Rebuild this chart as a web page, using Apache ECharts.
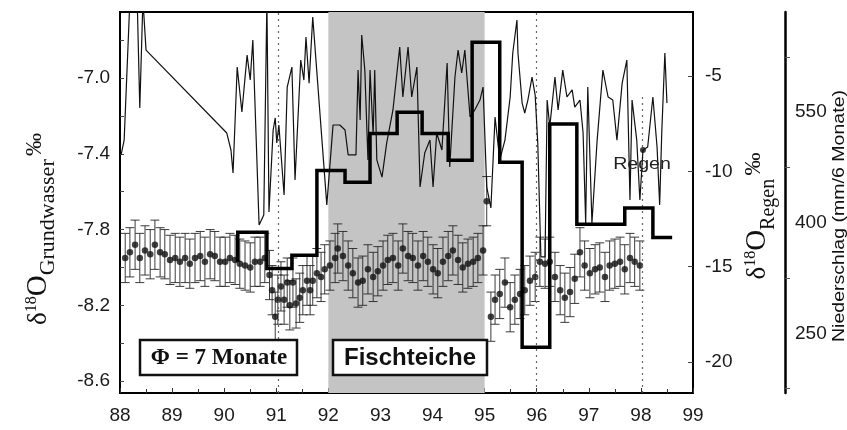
<!DOCTYPE html>
<html>
<head>
<meta charset="utf-8">
<script src="https://cdn.jsdelivr.net/npm/echarts@6/dist/echarts.min.js"></script>
<style>
  html, body { margin: 0; padding: 0; background: #fff; }
  #chart { width: 847px; height: 430px; }
</style>
</head>
<body>
<div id="chart"></div>
<script>
// δ18O of groundwater (‰), sampling dates as decimal years (19xx)
const gwYears = [88.10,88.19,88.29,88.38,88.48,88.58,88.67,88.77,88.86,88.96,89.06,89.15,89.25,89.34,89.44,89.54,89.63,89.73,89.82,89.92,
  90.02,90.11,90.21,90.30,90.40,90.50,90.59,90.69,90.78,90.87,90.92,90.98,91.03,91.09,91.15,91.21,91.26,91.32,91.38,91.45,
  91.51,91.59,91.65,91.70,91.78,91.86,91.93,92.03,92.13,92.18,92.28,92.38,92.47,92.57,92.66,92.76,92.86,92.95,93.05,93.14,
  93.24,93.34,93.43,93.53,93.62,93.72,93.82,93.91,94.01,94.10,94.20,94.30,94.39,94.49,94.58,94.68,94.78,94.87,94.97,95.04,
  95.12,95.20,95.29,95.39,95.49,95.58,95.68,95.77,95.87,95.97,96.06,96.16,96.25,96.35,96.45,96.54,96.64,96.73,96.83,96.92,
  97.02,97.12,97.21,97.31,97.40,97.50,97.60,97.69,97.79,97.88,97.98];
const gwValues = [-7.95,-7.92,-7.88,-7.95,-7.91,-7.93,-7.88,-7.92,-7.93,-7.96,-7.95,-7.97,-7.95,-7.98,-7.95,-7.94,-7.97,-7.93,-7.94,-7.97,
  -7.97,-7.95,-7.96,-7.98,-7.99,-8.00,-7.97,-7.97,-7.95,-8.04,-8.12,-8.26,-8.17,-8.10,-8.17,-8.08,-8.20,-8.08,-8.19,-8.16,
  -8.12,-8.07,-8.12,-8.07,-8.03,-8.05,-8.01,-7.99,-7.95,-7.90,-7.94,-7.99,-8.03,-8.08,-8.07,-8.01,-8.05,-8.02,-7.99,-7.96,
  -7.95,-7.99,-7.90,-7.94,-7.95,-7.99,-7.94,-7.97,-8.01,-8.03,-7.97,-7.94,-7.91,-7.96,-8.00,-7.98,-7.97,-7.95,-7.91,-7.65,
  -8.26,-8.17,-8.14,-8.08,-8.21,-8.17,-8.14,-8.12,-8.07,-8.05,-7.97,-7.98,-7.97,-8.05,-8.12,-8.16,-8.13,-8.06,-7.92,-7.99,
  -8.03,-8.01,-8.00,-8.05,-7.99,-7.98,-7.97,-8.01,-7.95,-7.97,-7.99];
const gwError = 0.13;   // analytical uncertainty (±‰)

// δ18O of rain (‰)
const rainYears = [88.02,88.08,88.19,88.33,88.38,88.44,88.50,90.05,90.13,90.17,90.25,90.34,90.44,90.50,90.55,90.67,90.76,90.82,90.86,90.94,
  90.98,91.01,91.05,91.15,91.21,91.30,91.36,91.47,91.53,91.57,91.63,91.70,91.97,92.09,92.22,92.32,92.38,92.53,92.57,92.61,
  92.64,92.70,92.76,92.80,92.86,92.89,92.93,93.03,93.12,93.24,93.37,93.43,93.53,93.60,93.70,93.76,93.85,93.95,94.01,94.08,
  94.18,94.28,94.33,94.43,94.49,94.56,94.62,94.72,94.81,94.91,94.97,95.04,95.12,95.20,95.29,95.39,95.49,95.54,95.62,95.64,
  95.72,95.77,95.83,95.91,95.97,96.02,96.08,96.16,96.20,96.25,96.35,96.41,96.50,96.58,96.68,96.73,96.83,96.89,96.94,96.98,
  97.06,97.16,97.27,97.37,97.46,97.54,97.64,97.73,97.79,97.83,97.92,97.98,98.04,98.13,98.23,98.31,98.36,98.40,98.46,98.50];
const rainValues = [-9.14,-8.36,-1.0,-1.0,-6.68,-1.0,-3.64,-7.99,-8.88,-10.09,-4.53,-6.89,-3.90,-5.21,-3.11,-12.81,-12.29,-1.0,-12.13,-7.83,
  -7.20,-8.51,-7.57,-11.24,-5.58,-4.53,-10.45,-4.16,-5.21,-2.95,-5.37,-1.91,-11.76,-7.57,-7.57,-7.83,-9.14,-9.14,-4.69,-7.31,
  -2.85,-4.69,-9.40,-4.69,-8.09,-4.69,-9.40,-10.30,-8.51,-6.78,-3.48,-6.10,-3.48,-6.10,-4.53,-10.82,-9.04,-8.36,-10.82,-7.99,
  -8.88,-4.32,-9.77,-5.05,-3.64,-4.84,-3.64,-7.15,-6.78,-6.26,-5.58,-10.82,-11.92,-7.15,-9.40,-8.36,-6.10,-3.79,-2.06,-3.79,
  -6.42,-6.94,-6.26,-5.05,-6.00,-8.51,-14.49,-14.49,-6.26,-7.67,-5.05,-6.78,-4.69,-6.10,-5.73,-6.63,-6.26,-7.99,-12.71,-5.58,
  -12.71,-8.36,-4.69,-6.10,-6.26,-8.36,-5.37,-4.16,-11.50,-6.26,-8.36,-11.50,-8.88,-8.72,-6.10,-8.72,-11.76,-7.99,-3.79,-6.42];
const rainMarkIndex = 112;   // sample highlighted next to the "Regen" label

// Precipitation (mm per 6 months), half-year bins
const precipEdges = [90.26,90.82,91.30,91.78,92.32,92.80,93.32,93.80,94.30,94.76,95.29,95.72,96.25,96.77,97.69,98.23,98.60];
const precipValues = [387,338,356,471,455,521,550,521,485,645,482,231,534,398,420,380];
const precipLead = 347;

// Fish-pond period and marked dates
const pondPeriod = [92.0, 95.0];
const markedYears = [91.03, 96.0];
const markedYear98 = 98.02;

// Axis tick labels
const gwTickValues = [-8.6, -8.2, -7.8, -7.4, -7.0];
const rainTickValues = [-20, -15, -10, -5];
const precipTickValues = [250, 400, 550];

const precipLine = [[precipEdges[0], precipLead]];
precipValues.forEach((v, i) => {
  precipLine.push([precipEdges[i], v], [precipEdges[i + 1], v]);
});

const chart = echarts.init(document.getElementById('chart'), null, { renderer: 'canvas' });
const sans = '"Liberation Sans", Arial, sans-serif';
const serif = '"Liberation Serif", "Times New Roman", serif';
const labelStyle = { color: '#1a1a1a', fontSize: 19, fontFamily: sans };

function titleRich(subSize) {
  return {
    d: { fontFamily: serif, fontSize: 27, verticalAlign: 'bottom' },
    sup: { fontFamily: serif, fontSize: 16, verticalAlign: 'top' },
    o: { fontFamily: serif, fontSize: 29, verticalAlign: 'bottom' },
    sub: { fontFamily: serif, fontSize: subSize, verticalAlign: 'bottom', padding: [0, 0, -7, 0] },
    pm: { fontFamily: serif, fontSize: 23, verticalAlign: 'top' }
  };
}

chart.setOption({
  animation: false,
  backgroundColor: '#fff',
  grid: { left: 120, right: 154, top: 12, bottom: 37, show: true, borderColor: '#000', borderWidth: 2, backgroundColor: 'transparent' },
  xAxis: {
    type: 'value', min: 88, max: 99, interval: 1,
    axisLine: { show: true, lineStyle: { color: '#000', width: 2 } },
    axisTick: { show: true, inside: true, length: 5, lineStyle: { color: '#333' } },
    minorTick: { show: true, splitNumber: 2, length: 4, lineStyle: { color: '#333' } },
    splitLine: { show: false },
    axisLabel: Object.assign({ margin: 13, formatter: v => String(v) }, labelStyle)
  },
  yAxis: [
    {
      type: 'value', min: -8.663, max: -6.651, position: 'left',
      axisLine: { show: true, lineStyle: { color: '#000', width: 2 } },
      axisTick: { show: true, inside: true, length: 4, customValues: [-8.6,-8.4,-8.2,-8.0,-7.8,-7.6,-7.4,-7.2,-7.0,-6.8], lineStyle: { color: '#444' } },
      splitLine: { show: false },
      axisLabel: Object.assign({ margin: 10, customValues: gwTickValues, formatter: v => v.toFixed(1) }, labelStyle)
    },
    {
      type: 'value', min: -21.63, max: -1.64, position: 'right',
      axisLine: { show: true, lineStyle: { color: '#000', width: 2 } },
      axisTick: { show: true, inside: true, length: 5, customValues: rainTickValues, lineStyle: { color: '#444' } },
      splitLine: { show: false },
      axisLabel: Object.assign({ margin: 12, customValues: rainTickValues, formatter: v => String(v) }, labelStyle)
    },
    {
      type: 'value', min: 169, max: 686, position: 'right', offset: 92,
      axisLine: { show: true, lineStyle: { color: '#000', width: 2.5 } },
      axisTick: { show: true, inside: false, length: 5, customValues: [175, 325, 475, 625], lineStyle: { color: '#555' } },
      splitLine: { show: false },
      axisLabel: Object.assign({ margin: 10, customValues: precipTickValues, formatter: v => String(v) }, labelStyle)
    }
  ],
  series: [
    {
      // fish-pond period shading and marked dates
      type: 'line', yAxisIndex: 0, data: [], silent: true, z: 1,
      markArea: {
        silent: true,
        itemStyle: { color: '#c4c4c4' },
        data: [[{ xAxis: pondPeriod[0] }, { xAxis: pondPeriod[1] }]]
      },
      markLine: {
        silent: true, symbol: 'none', label: { show: false },
        lineStyle: { color: '#666', type: [2, 4], width: 1.2 },
        data: markedYears.map(y => ({ xAxis: y })).concat([[{ coord: [markedYear98, -7.1] }, { coord: [markedYear98, -8.66] }]])
      }
    },
    {
      // groundwater error bars
      type: 'custom', yAxisIndex: 0, z: 3, silent: true,
      data: gwYears.map((y, i) => [y, gwValues[i] - gwError, gwValues[i] + gwError]),
      encode: { x: 0, y: [1, 2] },
      renderItem: (params, api) => {
        const x = api.value(0);
        const lo = api.coord([x, api.value(1)]);
        const hi = api.coord([x, api.value(2)]);
        const cap = 4.5;
        const st = { stroke: '#262626', lineWidth: 0.9 };
        return {
          type: 'group',
          children: [
            { type: 'line', shape: { x1: lo[0], y1: lo[1], x2: hi[0], y2: hi[1] }, style: st },
            { type: 'line', shape: { x1: lo[0] - cap, y1: lo[1], x2: lo[0] + cap, y2: lo[1] }, style: st },
            { type: 'line', shape: { x1: hi[0] - cap, y1: hi[1], x2: hi[0] + cap, y2: hi[1] }, style: st }
          ]
        };
      }
    },
    {
      // groundwater δ18O
      type: 'scatter', yAxisIndex: 0, z: 4, silent: true,
      symbol: 'circle', symbolSize: 6.5,
      itemStyle: { color: '#111' },
      data: gwYears.map((y, i) => [y, gwValues[i]])
    },
    {
      // rain δ18O
      type: 'line', yAxisIndex: 1, z: 5, silent: true, clip: true,
      symbol: 'none',
      lineStyle: { color: '#111', width: 1.2 },
      data: rainYears.map((y, i) => [y, rainValues[i]])
    },
    {
      type: 'scatter', yAxisIndex: 1, z: 6, silent: true,
      symbol: 'circle', symbolSize: 6, itemStyle: { color: '#111' },
      data: [[rainYears[rainMarkIndex], rainValues[rainMarkIndex]]]
    },
    {
      // precipitation per half year
      type: 'line', yAxisIndex: 2, z: 7, silent: true, clip: true,
      symbol: 'none',
      lineStyle: { color: '#000', width: 3.5, join: 'miter' },
      data: precipLine
    }
  ],
  graphic: [
    {
      type: 'text', x: 38, y: 229, rotation: Math.PI / 2, z: 100,
      style: {
        text: '{d|δ}{sup|18}{o|O}{sub|Grundwasser} {pm|‰}',
        align: 'center', verticalAlign: 'middle', fill: '#111', rich: titleRich(22)
      }
    },
    {
      type: 'text', x: 757, y: 216, rotation: Math.PI / 2, z: 100,
      style: {
        text: '{d|δ}{sup|18}{o|O}{sub|Regen} {pm|‰}',
        align: 'center', verticalAlign: 'middle', fill: '#111', rich: titleRich(20)
      }
    },
    {
      type: 'text', x: 839, y: 216, rotation: Math.PI / 2, scaleX: 1.15, z: 100,
      style: {
        text: 'Niederschlag (mm/6 Monate)',
        align: 'center', verticalAlign: 'middle', fill: '#111',
        fontFamily: sans, fontSize: 17
      }
    },
    {
      type: 'text', x: 642, y: 164, scaleX: 1.15, z: 100,
      style: { text: 'Regen', align: 'center', verticalAlign: 'middle', fill: '#222', fontFamily: sans, fontSize: 17 }
    },
    { type: 'rect', z: 100, shape: { x: 140, y: 340, width: 157, height: 35 }, style: { fill: '#fff', stroke: '#111', lineWidth: 2.5 } },
    { type: 'text', z: 101, x: 219, y: 358, style: { text: 'Φ = 7 Monate', align: 'center', verticalAlign: 'middle', fill: '#111', fontFamily: serif, fontWeight: 'bold', fontSize: 23 } },
    { type: 'rect', z: 100, shape: { x: 333, y: 340, width: 154, height: 35 }, style: { fill: '#fff', stroke: '#111', lineWidth: 2.5 } },
    { type: 'text', z: 101, x: 410, y: 358, style: { text: 'Fischteiche', align: 'center', verticalAlign: 'middle', fill: '#111', fontFamily: sans, fontWeight: 'bold', fontSize: 24 } }
  ]
});
</script>
</body>
</html>
